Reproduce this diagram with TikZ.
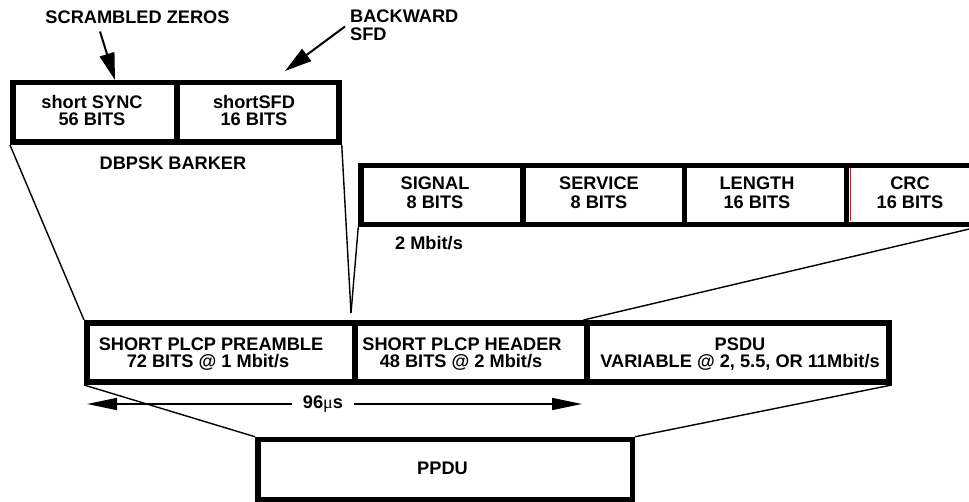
\documentclass[tikz,border=0pt]{standalone}
\usepackage{fontspec}
\setmainfont{Liberation Sans}
\newfontfamily\mufont{Liberation Serif}
\usetikzlibrary{arrows.meta}

\tikzset{
  cell/.style={draw, line width=5.5pt, line join=miter, inner sep=0pt},
  maincell/.style={cell, line width=6pt},
  txt/.style={font=\bfseries\fontsize{18.2}{18}\selectfont, inner sep=0pt, anchor=base},
  txtw/.style={txt, anchor=base west},
  fan/.style={line width=1.4pt},
  pointer/.style={line width=2pt, -{Triangle[length=27pt, width=15pt]}},
  span/.style={line width=1.6pt, -{Triangle[length=30pt, width=12pt]}},
}

\begin{document}
\begin{tikzpicture}[x=1pt, y=-1pt]
  \useasboundingbox (0,0) rectangle (969,502);
  \clip (0,0) rectangle (969,502);

  % short preamble detail
  \node[cell, minimum width=164.25pt, minimum height=59.5pt] (sync) at (94.875,112.5) {};
  \node[cell, minimum width=162pt, minimum height=59.5pt] (sfd) at (258,112.5) {};
  \node[txt] (syncA) at (92,108.3) {short SYNC};
  \node[txt] (syncB) at (92,126) {56 BITS};
  \node[txt] (sfdA) at (254,108.3) {shortSFD};
  \node[txt] (sfdB) at (254,126) {16 BITS};
  \node[txt] (barker) at (173,170) {DBPSK BARKER};

  % annotations above the preamble
  \node[txt] (zeros) at (137.5,24) {SCRAMBLED ZEROS};
  \node[txtw] (bwdA) at (350,23) {BACKWARD};
  \node[txtw] (bwdB) at (350,41) {SFD};
  \coordinate (zerosTail) at (100,31.5);
  \coordinate (zerosTip) at (115,80);
  \coordinate (bwdTail) at (345,26.5);
  \coordinate (bwdTip) at (285,71);
  \draw[pointer] (zerosTail) -- (zerosTip);
  \draw[pointer] (bwdTail) -- (bwdTip);

  % short header detail (last field runs past the right edge)
  \node[cell, minimum width=162pt, minimum height=59pt] (sig) at (442,195) {};
  \node[cell, minimum width=161.5pt, minimum height=59pt] (svc) at (603.75,195) {};
  \node[cell, minimum width=162pt, minimum height=59pt] (len) at (765.5,195) {};
  \node[cell, minimum width=127.5pt, minimum height=59pt] (crc) at (910.25,195) {};
  \draw[red, line width=1.1pt] (850.6,168.5) -- (850.6,221.5);
  \node[txt] (sigA) at (435,190) {SIGNAL};
  \node[txt] (sigB) at (435,209) {8 BITS};
  \node[txt] (svcA) at (599,190) {SERVICE};
  \node[txt] (svcB) at (599,209) {8 BITS};
  \node[txt] (lenA) at (757,190) {LENGTH};
  \node[txt] (lenB) at (757,209) {16 BITS};
  \node[txt] (crcA) at (910,190) {CRC};
  \node[txt] (crcB) at (910,209) {16 BITS};
  \node[txt] (rate) at (429,250) {2 Mbit/s};

  % PPDU fields
  \node[maincell, minimum width=267.5pt, minimum height=59pt] (pre) at (220.75,352.5) {};
  \node[maincell, minimum width=232pt, minimum height=59pt] (hdr) at (470.5,352.5) {};
  \node[maincell, minimum width=302.2pt, minimum height=59pt] (psdu) at (737.6,352.5) {};
  \node[txt] (preA) at (211,351) {SHORT PLCP PREAMBLE};
  \node[txt] (preB) at (208,368) {72 BITS @ 1 Mbit/s};
  \node[txt] (hdrA) at (462,351) {SHORT PLCP HEADER};
  \node[txt] (hdrB) at (461,368) {48 BITS @ 2 Mbit/s};
  \node[txt] (psduA) at (740,351) {PSDU};
  \node[txt] (psduB) at (740,368) {VARIABLE @ 2, 5.5, OR 11Mbit/s};

  % PPDU
  \node[cell, minimum width=374.5pt, minimum height=60pt] (ppdu) at (445,469.5) {};
  \node[txt] (ppduT) at (442.5,474) {PPDU};

  % 96 us span
  \node[font=\bfseries\fontsize{18.2}{18}\selectfont, inner xsep=11pt, inner ysep=0pt]
    (dur) at (323,404) {96{\mufont\mdseries μ}s};
  \coordinate (durL) at (87,404);
  \coordinate (durR) at (582,404);
  \draw[span] (dur.west) -- (durL);
  \draw[span] (dur.east) -- (durR);

  % expansion lines
  \coordinate (meet) at (351,313);
  \draw[fan] (sync.south west) -- (pre.north west);
  \draw[fan] (sfd.south east) -- (meet);
  \draw[fan] (sig.south west) -- (meet);
  \draw[fan] (crc.south east) -- (psdu.north west);
  \draw[fan] (pre.south west) -- (ppdu.north west);
  \draw[fan] (psdu.south east) -- (ppdu.north east);
\end{tikzpicture}
\end{document}
